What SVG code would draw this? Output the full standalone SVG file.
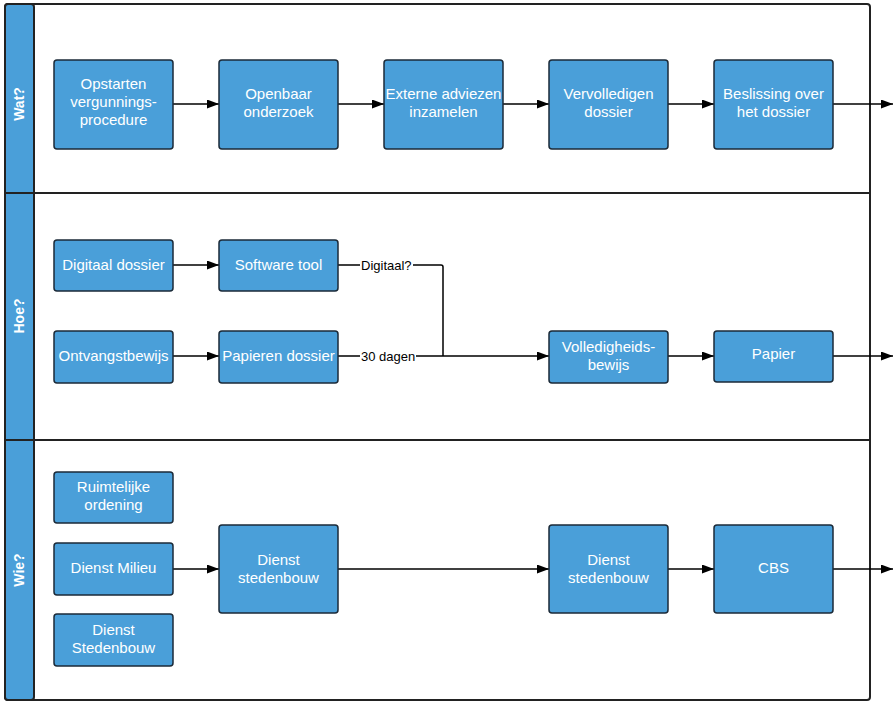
<svg xmlns="http://www.w3.org/2000/svg" width="893" height="705" viewBox="0 0 893 705">
<style>
.n{fill:#4a9fd9;stroke:#1b2a38;stroke-width:1.5}
.t{font-family:"Liberation Sans",Arial,sans-serif;font-size:15px;fill:#fff;text-anchor:middle}
.h{font-family:"Liberation Sans",Arial,sans-serif;font-size:14px;font-weight:bold;fill:#fff;text-anchor:middle}
.c{fill:none;stroke:#000;stroke-width:1.5}
.l{font-family:"Liberation Sans",Arial,sans-serif;font-size:13px;fill:#000}
.lane{fill:#fff;stroke:#222;stroke-width:2}
.hd{fill:#4a9fd9;stroke:#222;stroke-width:2}
</style>
<defs>
<marker id="a" markerWidth="12" markerHeight="9" refX="12" refY="4.5" orient="auto" markerUnits="userSpaceOnUse">
<path d="M0,0 L12,4.5 L0,9 Z" fill="#000"/>
</marker>
</defs>
<g id="lanes">
<rect x="5" y="4" width="865" height="696" rx="3" class="lane"/>
<rect x="5" y="4" width="29" height="696" rx="3" class="hd"/>
<line x1="5" y1="193" x2="870" y2="193" stroke="#222" stroke-width="2"/>
<line x1="5" y1="440" x2="870" y2="440" stroke="#222" stroke-width="2"/>
<text class="h" transform="translate(24,104) rotate(-90)">Wat?</text>
<text class="h" transform="translate(24,316) rotate(-90)">Hoe?</text>
<text class="h" transform="translate(24,570) rotate(-90)">Wie?</text>
</g>
<g id="connectors">
<path class="c" d="M173,104 H219" marker-end="url(#a)"/>
<path class="c" d="M338,104 H384" marker-end="url(#a)"/>
<path class="c" d="M503,104 H549" marker-end="url(#a)"/>
<path class="c" d="M668,104 H714" marker-end="url(#a)"/>
<path class="c" d="M833,104 H893" marker-end="url(#a)"/>
<path class="c" d="M173,265 H219" marker-end="url(#a)"/>
<path class="c" d="M173,356 H219" marker-end="url(#a)"/>
<path class="c" d="M338,265 H360 M413,265 H441 Q443,265 443,267 V356"/>
<path class="c" d="M338,356 H360 M416,356 H549" marker-end="url(#a)"/>
<path class="c" d="M668,356 H714" marker-end="url(#a)"/>
<path class="c" d="M833,356 H893" marker-end="url(#a)"/>
<path class="c" d="M173,569 H219" marker-end="url(#a)"/>
<path class="c" d="M338,569 H549" marker-end="url(#a)"/>
<path class="c" d="M668,569 H714" marker-end="url(#a)"/>
<path class="c" d="M833,569 H893" marker-end="url(#a)"/>
<text class="l" x="361" y="270">Digitaal?</text>
<text class="l" x="361" y="361">30 dagen</text>
</g>
<g id="n1"><rect class="n" x="54" y="60" width="119" height="89" rx="3"/><text class="t" x="113.5" y="89">Opstarten</text><text class="t" x="113.5" y="107">vergunnings-</text><text class="t" x="113.5" y="125">procedure</text></g>
<g id="n2"><rect class="n" x="219" y="60" width="119" height="89" rx="3"/><text class="t" x="278.5" y="99">Openbaar</text><text class="t" x="278.5" y="117">onderzoek</text></g>
<g id="n3"><rect class="n" x="384" y="60" width="119" height="89" rx="3"/><text class="t" x="443.5" y="99">Externe adviezen</text><text class="t" x="443.5" y="117">inzamelen</text></g>
<g id="n4"><rect class="n" x="549" y="60" width="119" height="89" rx="3"/><text class="t" x="608.5" y="99">Vervolledigen</text><text class="t" x="608.5" y="117">dossier</text></g>
<g id="n5"><rect class="n" x="714" y="60" width="119" height="89" rx="3"/><text class="t" x="773.5" y="99">Beslissing over</text><text class="t" x="773.5" y="117">het dossier</text></g>
<g id="n6"><rect class="n" x="54" y="240" width="119" height="51" rx="3"/><text class="t" x="113.5" y="270">Digitaal dossier</text></g>
<g id="n7"><rect class="n" x="219" y="240" width="119" height="51" rx="3"/><text class="t" x="278.5" y="270">Software tool</text></g>
<g id="n8"><rect class="n" x="54" y="331" width="119" height="52" rx="3"/><text class="t" x="113.5" y="361">Ontvangstbewijs</text></g>
<g id="n9"><rect class="n" x="219" y="331" width="119" height="52" rx="3"/><text class="t" x="278.5" y="361">Papieren dossier</text></g>
<g id="n10"><rect class="n" x="549" y="331" width="119" height="52" rx="3"/><text class="t" x="608.5" y="352">Volledigheids-</text><text class="t" x="608.5" y="370">bewijs</text></g>
<g id="n11"><rect class="n" x="714" y="331" width="119" height="51" rx="3"/><text class="t" x="773.5" y="359">Papier</text></g>
<g id="n12"><rect class="n" x="54" y="472" width="119" height="51" rx="3"/><text class="t" x="113.5" y="492">Ruimtelijke</text><text class="t" x="113.5" y="510">ordening</text></g>
<g id="n13"><rect class="n" x="54" y="543" width="119" height="52" rx="3"/><text class="t" x="113.5" y="573">Dienst Milieu</text></g>
<g id="n14"><rect class="n" x="54" y="614" width="119" height="52" rx="3"/><text class="t" x="113.5" y="635">Dienst</text><text class="t" x="113.5" y="653">Stedenbouw</text></g>
<g id="n15"><rect class="n" x="219" y="525" width="119" height="88" rx="3"/><text class="t" x="278.5" y="565">Dienst</text><text class="t" x="278.5" y="583">stedenbouw</text></g>
<g id="n16"><rect class="n" x="549" y="525" width="119" height="88" rx="3"/><text class="t" x="608.5" y="565">Dienst</text><text class="t" x="608.5" y="583">stedenbouw</text></g>
<g id="n17"><rect class="n" x="714" y="525" width="119" height="88" rx="3"/><text class="t" x="773.5" y="573">CBS</text></g>
</svg>
